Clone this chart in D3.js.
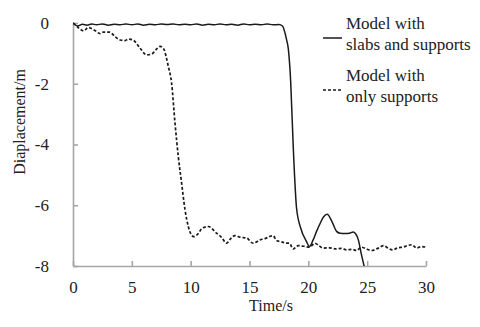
<!DOCTYPE html>
<meta charset="utf-8">
<style>
body { margin: 0; background: #fff; }
.axis path, .axis line { stroke: #a6a6a6; stroke-width: 1.6; }
.line { fill: none; stroke: #1a1a1a; stroke-width: 1.5; }
.dashed { stroke-dasharray: 3,2; stroke-width: 1.7; }
</style>
<svg width="480" height="327"></svg>
<script src="https://cdn.jsdelivr.net/npm/d3@7/dist/d3.min.js"></script>
<script>

// slabs and supports
var slabTime = [0,0.4,0.8,1.2,1.6,2.0,2.5,3.0,3.5,4.0,4.5,5.0,5.5,6.0,6.5,7.0,7.5,8.0,8.5,9.0,9.5,10,10.5,11,11.5,12,12.5,13,13.5,14,14.5,15,15.5,16,16.5,17,17.5,17.8,18.0,18.15,18.3,18.5,18.72,19.0,19.35,19.85,20.1,20.4,20.7,21.0,21.3,21.6,22.0,22.4,22.7,23.1,23.5,23.8,24.0,24.25,24.5,24.8];
var slabDisp = [0,-0.1,-0.04,-0.07,-0.03,-0.06,-0.03,-0.07,-0.04,-0.06,-0.03,-0.06,-0.03,-0.07,-0.04,-0.06,-0.03,-0.05,-0.03,-0.06,-0.04,-0.06,-0.03,-0.07,-0.04,-0.06,-0.03,-0.06,-0.04,-0.07,-0.03,-0.06,-0.04,-0.06,-0.03,-0.06,-0.05,-0.1,-0.3,-0.55,-0.85,-1.93,-4.1,-6.1,-6.75,-7.2,-7.36,-7.15,-6.86,-6.6,-6.38,-6.3,-6.53,-6.86,-6.92,-6.93,-6.92,-6.88,-6.93,-7.14,-7.6,-8.1];

// only supports
var suppTime = [0,0.3,0.6,0.9,1.3,1.87,2.3,2.57,3.1,3.57,4.0,4.4,4.7,5.1,5.7,6.26,6.7,7.0,7.4,7.7,8.1,8.38,8.67,8.95,9.23,9.52,9.8,10.25,10.6,11.0,11.5,12.2,12.6,13.06,13.4,13.76,14.2,14.76,15.3,15.9,16.3,16.7,17.0,17.3,17.7,18.15,18.4,18.7,19.15,19.6,20.1,20.56,20.9,21.27,21.8,22.4,22.8,23.25,23.7,24.1,24.5,25.0,25.4,25.9,26.4,26.8,27.2,27.6,28.06,28.4,28.8,29.2,29.6,30];
var suppDisp = [0,-0.1,-0.2,-0.26,-0.15,-0.25,-0.35,-0.3,-0.3,-0.45,-0.56,-0.58,-0.53,-0.56,-0.83,-1.05,-1.02,-0.9,-0.77,-0.85,-1.43,-1.98,-3.3,-4.4,-5.27,-6.15,-6.7,-7.03,-6.95,-6.75,-6.7,-6.92,-7.05,-7.25,-7.1,-7.0,-7.05,-7.08,-7.25,-7.14,-7.1,-7.03,-7.0,-7.16,-7.2,-7.25,-7.25,-7.44,-7.33,-7.35,-7.38,-7.25,-7.33,-7.41,-7.4,-7.44,-7.42,-7.47,-7.45,-7.49,-7.38,-7.45,-7.49,-7.42,-7.33,-7.42,-7.47,-7.4,-7.38,-7.33,-7.3,-7.41,-7.36,-7.38];

var xTicks = [0, 5, 10, 15, 20, 25, 30];
var yTicks = [0, -2, -4, -6, -8];
var legendLabels = [["Model with", "slabs and supports"], ["Model with", "only supports"]];

var svg = d3.select("svg");

var x = d3.scaleLinear().domain([0, 30]).range([73, 426]);
var y = d3.scaleLinear().domain([-8, 0]).range([266, 23]);

svg.append("defs").append("clipPath").attr("id", "plot")
  .append("rect")
    .attr("x", x(0)).attr("y", y(0) - 10)
    .attr("width", x(30) - x(0) + 10).attr("height", y(-8) - y(0) + 10);

var fmt = function(d) { return String(d); };

svg.append("g")
    .attr("class", "axis")
    .attr("transform", "translate(0," + y(-8) + ")")
    .call(d3.axisBottom(x).tickValues(xTicks).tickFormat(fmt).tickSizeInner(-5).tickSizeOuter(0).tickPadding(15));

svg.append("g")
    .attr("class", "axis")
    .attr("transform", "translate(" + x(0) + ",0)")
    .call(d3.axisLeft(y).tickValues(yTicks).tickFormat(fmt).tickSizeInner(-5).tickSizeOuter(0).tickPadding(24));

svg.selectAll(".axis").attr("font-size", 17);

var line = d3.line()
    .x(function(d) { return x(d[0]); })
    .y(function(d) { return y(d[1]); })
    .curve(d3.curveMonotoneX);

svg.append("path")
    .datum(d3.zip(suppTime, suppDisp))
    .attr("class", "line dashed")
    .attr("clip-path", "url(#plot)")
    .attr("d", line);

svg.append("path")
    .datum(d3.zip(slabTime, slabDisp))
    .attr("class", "line")
    .attr("clip-path", "url(#plot)")
    .attr("d", line);

svg.append("text")
    .attr("x", 271).attr("y", 311)
    .attr("text-anchor", "middle")
    .attr("font-size", 16)
    .text("Time/s");

svg.append("text")
    .attr("transform", "translate(25,122) rotate(-90)")
    .attr("text-anchor", "middle")
    .attr("font-size", 16)
    .text("Diaplacement/m");

// legend
var legend = svg.append("g").attr("transform", "translate(323,0)");
legendLabels.forEach(function(lines, i) {
  var top = 29 + i * 52;
  legend.append("line")
      .attr("class", "line" + (i ? " dashed" : ""))
      .attr("x1", 0).attr("x2", 19)
      .attr("y1", top + 9).attr("y2", top + 9);
  lines.forEach(function(s, j) {
    legend.append("text")
        .attr("x", 23).attr("y", top + j * 21)
        .attr("font-size", 17)
        .text(s);
  });
});

svg.selectAll("text")
    .attr("font-family", "Liberation Serif")
    .style("font-family", "'Liberation Serif'")
    .attr("fill", "#222");

</script>
